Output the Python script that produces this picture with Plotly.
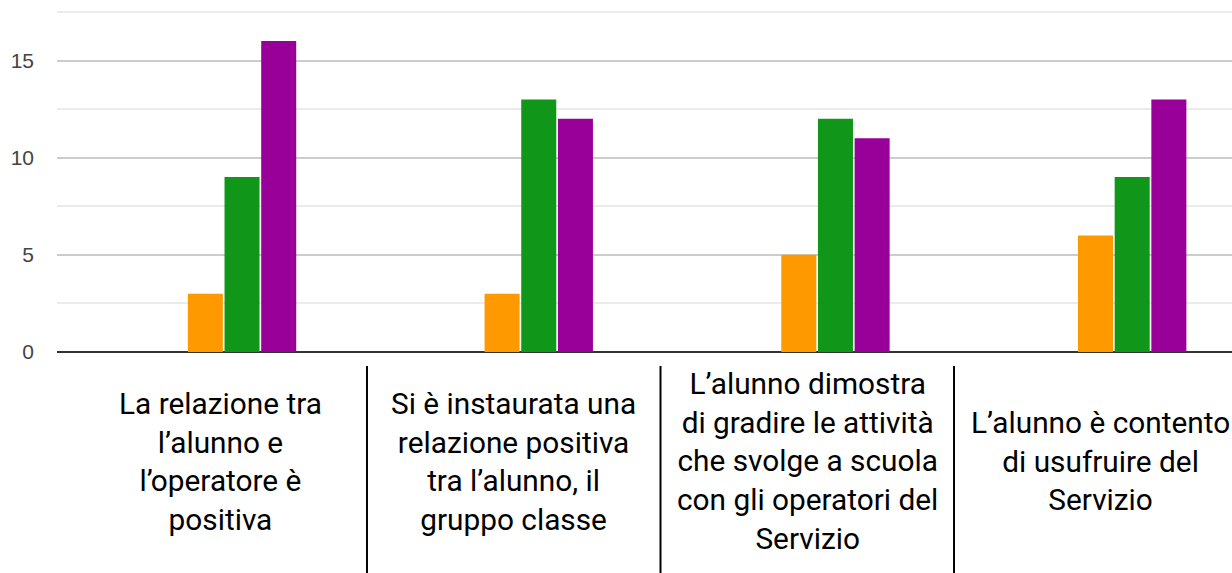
import plotly.graph_objects as go

# categorie (righe della griglia) e risposte per livello
categorie = [
    "La relazione tra<br>l’alunno e<br>l’operatore è<br>positiva",
    "Si è instaurata una<br>relazione positiva<br>tra l’alunno, il<br>gruppo classe",
    "L’alunno dimostra<br>di gradire le attività<br>che svolge a scuola<br>con gli operatori del<br>Servizio",
    "L’alunno è contento<br>di usufruire del<br>Servizio",
]
livelli = ["Per niente", "Poco", "Abbastanza", "Molto", "Moltissimo"]
per_niente = [0, 0, 0, 0]
poco = [0, 0, 0, 0]
abbastanza = [3, 3, 5, 6]
molto = [9, 13, 12, 9]
moltissimo = [16, 12, 11, 13]
colori = ['#3366cc', '#dc3912', '#ff9900', '#109618', '#990099']

serie = [per_niente, poco, abbastanza, molto, moltissimo]
indici = list(range(len(categorie)))

fig = go.Figure()
for nome, valori, colore in zip(livelli, serie, colori):
    fig.add_trace(go.Bar(
        x=indici,
        y=valori,
        name=nome,
        marker=dict(color=colore, line=dict(width=0)),
    ))

# etichette centrate nelle celle sotto il grafico
for i, testo in enumerate(categorie):
    fig.add_annotation(
        x=i, xref='x2', y=-0.32, yref='paper',
        text=testo, showarrow=False, yanchor='middle', xanchor='center',
        align='center',
        font=dict(family='Roboto', size=29.8, color='#000000'),
    )

# separatori verticali tra le celle
for i in indici[:-1]:
    fig.add_shape(
        type='line', xref='x2', yref='paper',
        x0=i + 0.5, x1=i + 0.5, y0=-0.041, y1=-0.7,
        line=dict(color='#000000', width=2),
    )

fig.update_layout(
    width=1232,
    height=573,
    autosize=False,
    showlegend=False,
    barmode='group',
    bargap=0.382,
    bargroupgap=0.045,
    paper_bgcolor='#ffffff',
    plot_bgcolor='#ffffff',
    margin=dict(l=57, r=0, t=10, b=221),
    xaxis=dict(
        type='linear', range=[-0.5, 3.46], showticklabels=False,
        showgrid=False, zeroline=False, showline=False, ticks='',
    ),
    xaxis2=dict(
        type='linear', range=[-0.556, 3.447], overlaying='x', anchor='y',
        visible=False,
    ),
    yaxis=dict(
        range=[0, 17.6], dtick=5, tick0=0,
        showgrid=True, gridcolor='#cccccc', gridwidth=1.5,
        zeroline=True, zerolinecolor='#333333', zerolinewidth=2,
        showline=False, ticks='', ticklabelstandoff=22,
        tickfont=dict(family='Liberation Sans, Arial', size=21, color='#444444'),
        minor=dict(dtick=2.5, tick0=0, showgrid=True, gridcolor='#ebebeb', gridwidth=1.5),
    ),
)

# niente margine nella pagina, così la figura riempie tutta la finestra
fig.write_html(
    "out.html",
    config={'displayModeBar': False},
    post_script="document.body.style.margin='0';document.body.style.overflow='hidden';",
)
